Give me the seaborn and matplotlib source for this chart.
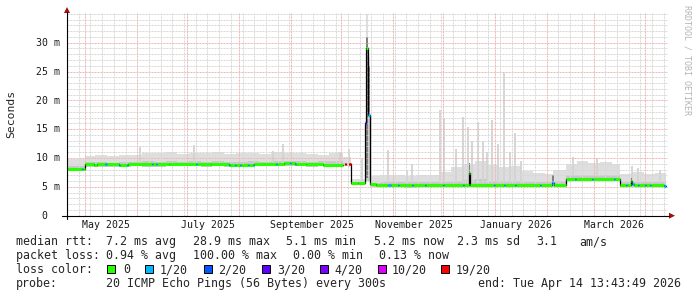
import matplotlib
matplotlib.use("Agg")
import numpy as np
import pandas as pd
import matplotlib.pyplot as plt
from matplotlib.patches import Polygon, Rectangle
from matplotlib.lines import Line2D
import seaborn as sns

nan = np.nan

# ---------------- data ----------------
loss_labels = ["0", "1/20", "2/20", "3/20", "4/20", "10/20", "19/20"]
loss_colors = ["#26ff00", "#00b8ff", "#0059ff", "#5e00ff", "#7e00ff", "#dd00ff", "#ff0000"]

median_dates = [
    "2025-04-20 00:00", "2025-04-29 00:00", "2025-04-29 18:00", "2025-04-30 18:00",
    "2025-05-06 00:00", "2025-05-08 00:00", "2025-05-13 00:00", "2025-05-13 18:00",
    "2025-05-21 00:00", "2025-05-21 18:00", "2025-05-26 00:00", "2025-05-26 18:00",
    "2025-06-09 20:00", "2025-06-10 14:00", "2025-06-12 00:00", "2025-06-12 18:00",
    "2025-06-20 00:00", "2025-07-06 00:00", "2025-07-06 18:00", "2025-07-15 00:00",
    "2025-07-26 00:00", "2025-07-26 18:00", "2025-07-29 12:00", "2025-07-30 06:00",
    "2025-08-01 12:00", "2025-08-02 06:00", "2025-08-06 06:00", "2025-08-07 00:00",
    "2025-08-09 06:00", "2025-08-10 00:00", "2025-08-23 00:00", "2025-08-23 18:00",
    "2025-08-28 00:00", "2025-08-31 08:00", "2025-09-01 02:00", "2025-09-03 08:00",
    "2025-09-04 02:00", "2025-09-10 00:00", "2025-09-20 00:00", "2025-10-02 02:00",
    "2025-10-03 04:00", "2025-10-03 20:00", "2025-10-05 22:00", "2025-10-06 17:00",
    "2025-10-11 00:00", "2025-10-15 07:00", "2025-10-15 22:00", "2025-10-17 09:00",
    "2025-10-18 12:00", "2025-10-22 00:00", "2025-10-29 00:00", "2025-10-31 00:00",
    "2025-11-04 00:00", "2025-11-04 18:00", "2025-11-12 06:00", "2025-11-13 00:00",
    "2025-11-20 00:00", "2025-11-20 18:00", "2025-12-01 00:00", "2025-12-01 18:00",
    "2025-12-12 20:00", "2025-12-13 14:00", "2025-12-16 06:00", "2025-12-17 00:00",
    "2025-12-31 12:00", "2026-01-01 06:00", "2026-01-06 12:00", "2026-01-07 06:00",
    "2026-01-13 00:00", "2026-01-13 18:00", "2026-01-28 00:00", "2026-01-28 18:00",
    "2026-02-04 00:00", "2026-02-05 12:00", "2026-02-12 14:00", "2026-02-17 20:00",
    "2026-02-18 14:00", "2026-02-28 00:00", "2026-02-28 18:00", "2026-03-13 06:00",
    "2026-03-14 00:00", "2026-03-16 22:00", "2026-03-20 06:00", "2026-03-21 00:00",
    "2026-03-23 06:00", "2026-03-23 22:00", "2026-03-25 00:00", "2026-03-27 12:00",
    "2026-03-28 06:00", "2026-03-31 18:00", "2026-04-01 12:00", "2026-04-03 18:00",
    "2026-04-04 12:00", "2026-04-12 00:00", "2026-04-13 09:00",
]
median_ms = [
    8.15, 8.1, 8.15, 8.9,
    8.75, 8.9, 8.9, 8.9,
    8.85, 8.85, 8.85, 8.9,
    8.9, 8.95, 8.95, 8.95,
    9.0, 8.95, 8.95, 8.9,
    8.85, 8.85, 8.85, 8.85,
    8.85, 8.85, 8.85, 8.85,
    8.85, 8.9, 9.0, 9.0,
    9.2, 9.2, 9.1, 9.0,
    9.0, 8.9, 8.85, nan,
    8.9, nan, 8.9, 5.65,
    5.75, 16.0, 29.0, 17.4,
    5.45, 5.3, 5.3, 5.25,
    5.25, 5.25, 5.25, 5.25,
    5.25, 5.25, 5.3, 5.3,
    5.3, 5.3, 7.4, 5.25,
    5.25, 5.25, 5.25, 5.25,
    5.25, 5.25, 5.3, 5.3,
    5.6, 5.3, 6.4, 6.4,
    6.4, 6.4, 6.35, 6.35,
    6.35, 5.25, 5.25, 5.25,
    6.1, 5.5, 5.25, 5.25,
    5.25, 5.25, 5.25, 5.25,
    5.25, 5.2, nan,
]
median_loss = [
    0, 1, 0, 0,
    0, 0, 1, 0,
    1, 0, 1, 0,
    1, 0, 1, 0,
    0, 1, 0, 0,
    1, 0, 1, 0,
    1, 0, 1, 0,
    1, 0, 1, 0,
    0, 1, 0, 1,
    0, 0, 0, -1,
    6, -1, 6, 0,
    0, 3, 0, 1,
    0, 0, 1, 0,
    1, 0, 1, 0,
    1, 0, 1, 0,
    1, 0, 0, 0,
    1, 0, 1, 0,
    1, 0, 1, 0,
    1, 0, 0, 1,
    0, 1, 0, 1,
    0, 0, 1, 0,
    0, 1, 0, 1,
    0, 1, 0, 1,
    0, 1, -1,
]

smoke_dates = [
    "2025-04-20 00:00", "2025-04-30 18:00", "2025-05-07", "2025-05-14", "2025-05-21",
    "2025-05-28", "2025-06-04", "2025-06-11", "2025-06-18", "2025-06-25", "2025-07-02",
    "2025-07-09", "2025-07-16", "2025-07-23", "2025-07-30", "2025-08-06", "2025-08-13",
    "2025-08-20", "2025-08-27", "2025-09-03", "2025-09-10", "2025-09-17", "2025-09-24",
    "2025-10-02 02:00", "2025-10-06 17:00", "2025-10-15 07:00", "2025-10-15 22:00",
    "2025-10-17 09:00", "2025-10-18 12:00", "2025-10-25", "2025-11-01", "2025-11-08",
    "2025-11-15", "2025-11-22", "2025-11-29", "2025-12-06", "2025-12-13", "2025-12-20",
    "2025-12-27", "2026-01-03", "2026-01-10", "2026-01-17", "2026-01-24", "2026-01-31",
    "2026-02-05", "2026-02-12 14:00", "2026-02-19", "2026-02-26", "2026-03-05",
    "2026-03-12", "2026-03-16 22:00", "2026-03-24", "2026-03-31", "2026-04-07",
    "2026-04-13 09:00",
]
smoke_lo = [
    7.9, 8.5, 8.5, 8.5, 8.5, 8.6, 8.5, 8.5, 8.6, 8.6, 8.6, 8.5, 8.6, 8.5, 8.5, 8.6, 8.6,
    8.6, 8.6, 8.6, 8.5, 8.6, 8.5, 8.6, 5.4, 5.6, 6.0, 6.0, 4.9, 4.9, 4.9, 4.8, 4.9, 4.9,
    4.9, 4.9, 4.9, 4.9, 4.9, 4.9, 4.9, 4.9, 4.9, 4.9, 4.9, 6.0, 6.0, 6.0, 6.0, 6.0, 4.9,
    4.9, 4.9, 4.9, 4.9,
]
smoke_mid = [
    8.6, 9.3, 9.3, 9.2, 9.3, 9.3, 9.4, 9.3, 9.4, 9.3, 9.4, 9.3, 9.4, 9.3, 9.3, 9.4, 9.3,
    9.4, 9.5, 9.4, 9.3, 9.4, 9.4, 9.2, 5.9, 10.0, 30.0, 20.0, 5.7, 5.8, 5.8, 5.8, 5.9,
    5.8, 5.9, 6.1, 6.2, 6.3, 6.1, 6.0, 6.0, 5.9, 5.9, 5.9, 6.0, 7.0, 7.1, 7.0, 7.0, 7.0,
    5.8, 5.9, 5.8, 5.9, 5.9,
]
smoke_hi = [
    9.9, 10.3, 10.5, 10.4, 10.6, 10.5, 10.9, 10.8, 11.0, 10.7, 10.8, 10.9, 11.0, 10.7,
    10.8, 10.9, 10.7, 11.0, 10.8, 10.9, 10.7, 10.6, 10.8, 10.2, 6.4, 16.5, 35.0, 27.5,
    6.8, 7.0, 7.1, 6.9, 7.1, 7.0, 7.6, 8.4, 9.0, 9.4, 8.8, 8.4, 8.6, 7.8, 7.4, 7.3, 8.0,
    9.0, 9.4, 9.1, 9.3, 8.9, 7.3, 7.5, 7.3, 7.4, 7.4,
]

core_dates = [
    "2025-10-15 07:00", "2025-10-15 22:00", "2025-10-17 09:00", "2025-10-18 12:00",
    "2025-10-18 13:00", "2025-12-16 06:00", "2025-12-17 00:00", "2025-12-17 01:00",
    "2026-02-04 00:00", "2026-02-05 12:00", "2026-02-05 13:00", "2026-03-23 06:00",
    "2026-03-23 22:00",
]
core_lo = [5.8, 6.5, 17.5, 17.5, nan, 5.5, 5.5, nan, 5.4, 5.4, nan, 5.3, 5.3]
core_hi = [14.0, 31.0, 26.0, 26.0, nan, 9.2, 9.2, nan, 7.0, 7.0, nan, 6.6, 6.6]

spike_dates = [
    "2025-06-02 16:00", "2025-07-05 00:00", "2025-08-21 05:00", "2025-08-27 00:00",
    "2025-09-30 07:00", "2025-10-06 00:00", "2025-10-13 12:00", "2025-10-28 22:00",
    "2025-11-09 05:00", "2025-11-12 14:00", "2025-11-29 05:00", "2025-12-01 17:00",
    "2025-12-08 17:00", "2025-12-12 22:00", "2025-12-15 17:00", "2025-12-18 07:00",
    "2025-12-21 17:00", "2025-12-24 22:00", "2025-12-27 07:00", "2025-12-30 12:00",
    "2026-01-02 22:00", "2026-01-06 14:00", "2026-01-10 00:00", "2026-01-13 00:00",
    "2026-01-16 14:00", "2026-02-16 17:00", "2026-03-03 02:00", "2026-03-24 00:00",
    "2026-03-27 14:00", "2026-04-09 19:00",
]
spike_base = [
    9.0, 9.0, 9.0, 9.0, 9.0, 8.5, 5.9, 5.6, 5.6, 5.6, 5.6, 5.6, 5.6, 5.6, 5.6, 5.6, 5.6,
    5.6, 5.6, 5.6, 5.6, 5.6, 5.6, 5.6, 5.6, 6.8, 6.8, 5.6, 5.6, 5.6,
]
spike_top = [
    11.9, 12.2, 11.3, 12.4, 11.0, 11.5, 9.8, 11.4, 7.8, 9.0, 18.3, 17.0, 11.5, 17.2, 15.4,
    13.0, 16.2, 13.0, 11.0, 16.6, 12.5, 24.8, 11.0, 14.3, 9.5, 10.1, 10.0, 8.7, 8.2, 8.0,
]

y_ticks = [0, 5, 10, 15, 20, 25, 30]
y_tick_labels = ["0", "5 m", "10 m", "15 m", "20 m", "25 m", "30 m"]
month_label_texts = ["May 2025", "July 2025", "September 2025", "November 2025",
                     "January 2026", "March 2026"]
month_label_starts = ["2025-05-01", "2025-07-01", "2025-09-01", "2025-11-01",
                      "2026-01-01", "2026-03-01"]

row_median = ["median rtt:", "7.2 ms avg", "28.9 ms max", "5.1 ms min", "5.2 ms now",
              "2.3 ms sd", "3.1", "am/s"]
row_loss = ["packet loss:", "0.94 % avg", "100.00 % max", "0.00 % min", "0.13 % now"]
row_probe = ["probe:", "20 ICMP Echo Pings (56 Bytes) every 300s",
             "end: Tue Apr 14 13:43:49 2026"]

# ---------------- layout ----------------
W, H = 697, 297
sns.set_style("white")
plt.rcParams["font.family"] = ["DejaVu Sans Mono"]

fig = plt.figure(figsize=(W / 100, H / 100), dpi=100, facecolor="white")

AX_L, AX_R, AX_T, AX_B = 67, 668, 12, 215.7
ax = fig.add_axes([AX_L / W, 1 - AX_B / H, (AX_R - AX_L) / W, (AX_B - AX_T) / H])
ax.set_facecolor("white")

t0 = pd.Timestamp("2025-04-20 00:00")
t1 = pd.Timestamp("2026-04-14 13:43:49")
ax.set_xlim(t0, t1)
ax.set_ylim(0, 35.32)
for s in ax.spines.values():
    s.set_visible(False)


def px(x, y):
    return x / W, 1 - y / H


def to_dt(lst):
    return pd.to_datetime(lst, format="ISO8601")


# smoke
sd = to_dt(smoke_dates)
ax.fill_between(sd, smoke_lo, smoke_hi, step="post", color="#dedede", lw=0, zorder=1)
ax.fill_between(sd, smoke_lo, smoke_mid, step="post", color="#c8c8c8", lw=0, zorder=1.1)
spd = to_dt(spike_dates)
ax.vlines(spd, spike_base, spike_top, colors="#d2d2d2", lw=1.3, zorder=1.2)
cd = to_dt(core_dates)
ax.fill_between(cd, core_lo, core_hi, step="post", color="#808080", lw=0, zorder=1.3)

# grid
gkw = dict(lw=0.72, linestyle=(0, (2, 1)), zorder=2)
for v in range(1, 36):
    ax.axhline(v, color="#f2b4b4" if (v % 5 == 0 and v < 35) else "#d8d8d8", **gkw)
weeks = pd.date_range(t0, t1, freq="W-SUN")
months = pd.date_range(t0, t1, freq="MS")
for w in weeks:
    if w not in months:
        ax.axvline(w, color="#d8d8d8", **gkw)
for m in months:
    ax.axvline(m, color="#f2b4b4", **gkw)

ax.set_xticks(months)
ax.set_xticklabels([])
ax.set_yticks([])
ax.tick_params(axis="x", which="major", length=3, width=0.72, color="#f2b4b4",
               direction="out", pad=0)

# median: black connector (seaborn) + loss coloured thick segments
md = to_dt(median_dates)
mv = np.array(median_ms, dtype=float)
groups, cur = [], []
for i in range(len(mv)):
    if np.isnan(mv[i]):
        if cur:
            groups.append((cur, i))
        cur = []
    else:
        cur.append(i)
for idx, end in groups:
    gx = list(md[idx]) + [md[end]]
    gy = list(mv[idx]) + [mv[idx[-1]]]
    sns.lineplot(x=gx, y=gy, ax=ax, color="black", lw=0.9, drawstyle="steps-post",
                 sort=False, estimator=None, zorder=3)
for i in range(len(mv) - 1):
    if np.isnan(mv[i]) or median_loss[i] < 0:
        continue
    ax.hlines(mv[i], md[i], md[i + 1], colors=loss_colors[median_loss[i]], lw=2.2,
              zorder=3.5)

ax.set_xlabel("")
ax.set_ylabel("")

# axis lines and arrows
fig.add_artist(Line2D([62 / W, 669 / W], [1 - AX_B / H] * 2, color="black", lw=0.8))
fig.add_artist(Line2D([AX_L / W] * 2, [1 - 219 / H, 1 - 12 / H], color="black", lw=0.8))
fig.add_artist(Polygon([px(669, AX_B - 3), px(669, AX_B + 3), px(675, AX_B)],
                       closed=True, facecolor="#a01010", edgecolor="none"))
fig.add_artist(Polygon([px(64, 13), px(70, 13), px(67, 7)],
                       closed=True, facecolor="#a01010", edgecolor="none"))

# y tick labels
ppm = (AX_B - AX_T) / 35.32
for v, lab in zip(y_ticks, y_tick_labels):
    yy = AX_B - v * ppm
    xr = 60 if v else 47
    fig.text(*px(xr, yy + 3.2), lab, ha="right", va="baseline", fontsize=7.1,
             color="#1a1a1a")

# month labels
span = (t1 - t0).total_seconds()
for lab, st in zip(month_label_texts, month_label_starts):
    tc = pd.Timestamp(st) + pd.Timedelta(days=12.5)
    xc = AX_L + (tc - t0).total_seconds() / span * (AX_R - AX_L)
    fig.text(*px(xc, 227.8), lab, ha="center", va="baseline", fontsize=7.1,
             color="#1a1a1a")

# axis title and credit
fig.text(*px(11, 114), "Seconds", rotation=90, ha="center", va="center", fontsize=8.2)
fig.text(*px(687, 60), "RRDTOOL / TOBI OETIKER", rotation=270, ha="center",
         va="center", fontsize=6.0, color="#b4b4b4")

# legend rows
fs = 8.4
for lab, x in zip(row_median, [16, 106.5, 193.5, 285.9, 373.7, 457.0, 536.0, 579.0]):
    fig.text(*px(x, 245.2), lab, ha="left", va="baseline", fontsize=fs)
for lab, x in zip(row_loss, [16, 106.5, 193.5, 292.8, 378.7]):
    fig.text(*px(x, 259.2), lab, ha="left", va="baseline", fontsize=fs)
fig.text(*px(16, 273.2), "loss color:", ha="left", va="baseline", fontsize=fs)
sq_x = [106.5, 144.6, 203.8, 261.9, 320.3, 378.3, 440.5]
lab_x = [123.6, 159.9, 218.3, 277.1, 334.8, 392.0, 455.8]
for lab, col, sx, lx in zip(loss_labels, loss_colors, sq_x, lab_x):
    fig.add_artist(Rectangle(px(sx, 273.0), 8.0 / W, 8.0 / H, transform=fig.transFigure,
                             facecolor=col, edgecolor="black", lw=0.7))
    fig.text(*px(lx, 273.2), lab, ha="left", va="baseline", fontsize=fs)
for lab, x in zip(row_probe, [16, 106.5, 478.0]):
    fig.text(*px(x, 287.4), lab, ha="left", va="baseline", fontsize=fs)

fig.savefig("out.png", dpi=100, facecolor="white")
